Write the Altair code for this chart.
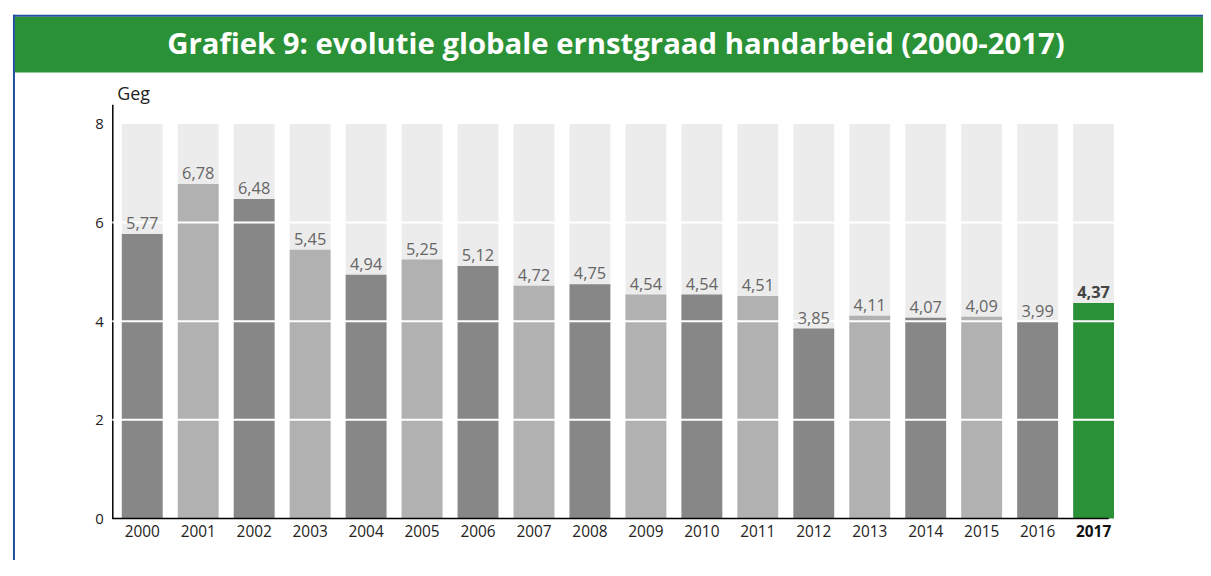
import altair as alt
import pandas as pd

years = [str(y) for y in range(2000, 2018)]
values = [5.77, 6.78, 6.48, 5.45, 4.94, 5.25, 5.12, 4.72, 4.75, 4.54,
          4.54, 4.51, 3.85, 4.11, 4.07, 4.09, 3.99, 4.37]
y_ticks = [0, 2, 4, 6, 8]
grid_vals = [2, 4, 6]
title_text = "Grafiek 9: evolutie globale ernstgraad handarbeid (2000-2017)"
axis_title = "Geg"

DARK = "#878787"
LIGHT = "#b1b1b1"
BG = "#ececec"
GREEN = "#2a9136"
BLUE = "#1f4f9c"
FONT = "Open Sans"

kinds = []
for i, y in enumerate(years):
    if i == len(years) - 1:
        kinds.append("hl")
    elif i % 2 == 0:
        kinds.append("dark")
    else:
        kinds.append("light")

df = pd.DataFrame({
    "year": years,
    "value": values,
    "kind": kinds,
    "label": [f"{v:.2f}".replace(".", ",") for v in values],
    "hl": [k == "hl" for k in kinds],
})
grid_df = pd.DataFrame({"g": grid_vals})

W, H = 1018, 417
YMAX = 8.4

xenc = alt.X("year:N", sort=years,
             scale=alt.Scale(paddingInner=0.27, paddingOuter=0.17),
             axis=alt.Axis(title=None, domain=False, ticks=False, labelAngle=0,
                           labelFont=FONT, labelFontSize=15.5, labelPadding=6,
                           labelColor=alt.expr("datum.value == '2017' ? '#111111' : '#222222'"),
                           labelFontWeight=alt.expr("datum.value == '2017' ? 'bold' : 'normal'")))
yscale = alt.Scale(domain=[0, YMAX], nice=False, zero=True)

base = alt.Chart(df)

bg = base.mark_bar(color=BG).encode(
    x=xenc,
    y=alt.Y("zero:Q", scale=yscale,
            axis=alt.Axis(title=None, values=y_ticks, ticks=False, grid=False,
                          domain=True, domainColor="#000000", domainWidth=1.5,
                          labelFont=FONT, labelFontSize=15, labelColor="#222222",
                          labelPadding=9)),
    y2=alt.Y2(datum=8),
).transform_calculate(zero="0")

bars = base.mark_bar().encode(
    x=xenc,
    y=alt.Y("value:Q", scale=yscale),
    color=alt.Color("kind:N", scale=alt.Scale(domain=["dark", "light", "hl"],
                                              range=[DARK, LIGHT, GREEN]), legend=None),
)

grid = alt.Chart(grid_df).mark_rule(color="white", strokeWidth=2).encode(
    y=alt.Y("g:Q", scale=yscale)
)

labels = base.transform_filter("!datum.hl").mark_text(
    baseline="alphabetic", dy=-5, font=FONT, fontSize=16.5, color="#666666"
).encode(
    x=xenc,
    y=alt.Y("value:Q", scale=yscale),
    text="label:N",
)
labels_hl = base.transform_filter("datum.hl").mark_text(
    baseline="alphabetic", dy=-5, font=FONT, fontSize=16.5, fontWeight="bold", color="#444444"
).encode(
    x=xenc,
    y=alt.Y("value:Q", scale=yscale),
    text="label:N",
)

xline = alt.Chart(pd.DataFrame({"a": [0]})).mark_rule(color="#000000", strokeWidth=1.5).encode(
    x=alt.value(0), x2=alt.value(1003), y=alt.value(H)
)

geg = alt.Chart(pd.DataFrame({"t": [axis_title]})).mark_text(
    align="left", baseline="alphabetic", font=FONT, fontSize=18, color="#222222"
).encode(x=alt.value(5), y=alt.value(-4), text="t:N")

frame_df = pd.DataFrame({"a": [0]})
title_bar = alt.Chart(frame_df).mark_rect(color=GREEN).encode(
    x=alt.value(-98), x2=alt.value(1098), y=alt.value(-88), y2=alt.value(-32)
)
top_line = alt.Chart(frame_df).mark_rect(color=BLUE).encode(
    x=alt.value(-100), x2=alt.value(1098), y=alt.value(-90), y2=alt.value(-88)
)
left_line = alt.Chart(frame_df).mark_rect(color=BLUE).encode(
    x=alt.value(-100), x2=alt.value(-98), y=alt.value(-90), y2=alt.value(480)
)
title = alt.Chart(pd.DataFrame({"t": [title_text]})).mark_text(
    align="center", baseline="middle", font=FONT, fontSize=29.5, fontWeight="bold", color="white"
).encode(x=alt.value(507), y=alt.value(-60), text="t:N")

chart = alt.layer(
    bg, bars, grid, labels, labels_hl, xline, geg, title_bar, top_line, left_line, title
).properties(
    width=W, height=H,
    autosize=alt.AutoSizeParams(type="none"),
    padding={"left": 105, "top": 95, "right": 80, "bottom": 40},
).configure_view(strokeWidth=0)

chart.save("out.html", embed_options={"renderer": "svg", "actions": False})
